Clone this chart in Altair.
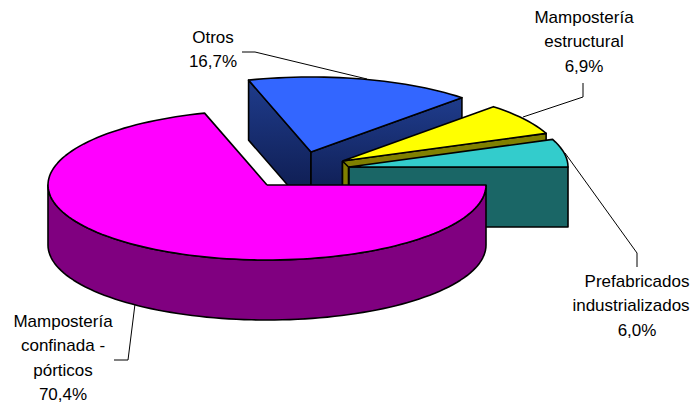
import numpy as np
import pandas as pd
import altair as alt

categories = ["Mampostería confinada - pórticos", "Otros", "Mampostería estructural", "Prefabricados industrializados"]
shares = [70.4, 16.7, 6.9, 6.0]
top_colors = ["#FF00FF", "#3366FF", "#FFFF00", "#33CCCC"]
side_colors = ["#800080", "#1B3480", "#808000", "#1A6666"]
centers_x = [267, 311, 342.5, 349]
centers_y = [185, 152, 161, 167]
label_lines = [
    ["Mampostería", "confinada -", "pórticos", "70,4%"],
    ["Otros", "16,7%"],
    ["Mampostería", "estructural", "6,9%"],
    ["Prefabricados", "industrializados", "6,0%"],
]
label_x = [63, 213, 584, 637]
label_y = [322, 38, 18, 282]
leaders = [
    [(114, 360), (128, 360), (135, 304)],
    [(242, 52), (255, 52), (367, 79)],
    [(583, 83), (583, 97), (523, 117)],
    [(637, 267), (637, 253), (565, 153)],
]
RX, RY, DEPTH = 219, 75, 60

xs = alt.X("x:Q", scale=alt.Scale(domain=[8, 690]), axis=None)
ys = alt.Y("y:Q", scale=alt.Scale(domain=[404, 8]), axis=None)

def poly(points, fill, sw=1.6):
    df = pd.DataFrame(points + points[:1], columns=["x", "y"])
    df["i"] = range(len(df))
    return alt.Chart(df).mark_line(fill=fill, stroke="black", strokeWidth=sw, strokeJoin="round", clip=False).encode(
        x=xs, y=ys, order="i:Q")

def arc(cx, cy, a0, a1, dy=0):
    n = max(2, int(abs(a1 - a0) / 2))
    t = np.radians(np.linspace(a0, a1, n + 1))
    return [(float(cx + RX * np.cos(v)), float(cy + dy + RY * np.sin(v))) for v in t]

edges = np.concatenate([[0], np.cumsum(shares)]) * 3.6
spans = list(zip(edges[:-1], edges[1:]))
layers = []

gradient = alt.Gradient(
    gradient="linear", x1=0, y1=0, x2=0, y2=1,
    stops=[alt.GradientStop(color="#1F3C8C", offset=0), alt.GradientStop(color="#0C1848", offset=1)],
)

for k in [1, 2, 3]:
    cx, cy = centers_x[k], centers_y[k]
    a0, a1 = spans[k]
    apex = (cx, cy)
    ab = (cx, cy + DEPTH)
    start = arc(cx, cy, a0, a0)[0]
    end = arc(cx, cy, a1, a1)[0]
    face_fill = gradient if k == 1 else side_colors[k]
    if k == 1:
        layers.append(poly([apex, start, (start[0], start[1] + DEPTH), ab], face_fill))
    layers.append(poly([apex, end, (end[0], end[1] + DEPTH), ab], face_fill))
    if k == 2:
        layers.append(poly([apex, (apex[0] + 6, apex[1] + 6), (apex[0] + 6, ab[1]), ab], face_fill))
    layers.append(poly([apex] + arc(cx, cy, a0, a1), top_colors[k]))

cx, cy = centers_x[0], centers_y[0]
a0, a1 = spans[0]
layers.append(poly(arc(cx, cy, 0, 180) + arc(cx, cy, 180, 0, DEPTH), side_colors[0]))
layers.append(poly([(cx, cy)] + arc(cx, cy, a0, a1), top_colors[0]))

for pts in leaders:
    df = pd.DataFrame(pts, columns=["x", "y"])
    df["i"] = range(len(df))
    layers.append(alt.Chart(df).mark_line(color="black", strokeWidth=1).encode(x=xs, y=ys, order="i:Q"))

rows = []
for lines, lx, ly in zip(label_lines, label_x, label_y):
    for j, s in enumerate(lines):
        # the long line is nudged so that it stays inside the picture's right edge
        x = lx - 6 if s == "industrializados" else lx
        rows.append({"x": x, "y": ly + j * 24.4, "t": s})
layers.append(alt.Chart(pd.DataFrame(rows)).mark_text(
    font="Liberation Sans", fontSize=17, color="black", align="center", baseline="middle"
).encode(x=xs, y=ys, text="t:N"))

chart = alt.layer(*layers).properties(
    width=682, height=396, padding=0,
    autosize=alt.AutoSizeParams(type="none"),
    background="white",
).configure_view(stroke=None)
chart.save("out.html", embed_options={"renderer": "svg", "actions": False})
